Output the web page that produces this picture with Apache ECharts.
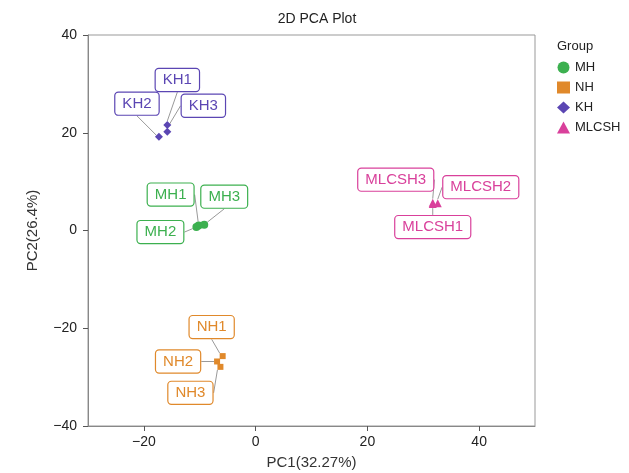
<!DOCTYPE html>
<html>
<head>
<meta charset="utf-8">
<script src="https://cdn.jsdelivr.net/npm/echarts@6/dist/echarts.min.js"></script>
<style>
html,body{margin:0;padding:0;background:#fff;}
#chart{width:629px;height:473px;}
</style>
</head>
<body>
<div id="chart"></div>
<script>
// ---- data ----
const groups = ['MH', 'NH', 'KH', 'MLCSH'];
const MH_points = [['MH1', -10.2, 1.0], ['MH2', -10.6, 0.7], ['MH3', -9.2, 1.2]];
const NH_points = [['NH1', -5.9, -25.7], ['NH2', -6.9, -26.8], ['NH3', -6.3, -27.9]];
const KH_points = [['KH1', -15.8, 21.6], ['KH2', -17.3, 19.2], ['KH3', -15.8, 20.2]];
const MLCSH_points = [['MLCSH1', 31.7, 5.4], ['MLCSH2', 32.6, 5.6], ['MLCSH3', 31.7, 5.7]];
const xTicks = [-20, 0, 20, 40];
const yTicks = [-40, -20, 0, 20, 40];

// ---- styling / layout (not data) ----
const colors = {MH: '#3cb04f', NH: '#e0892b', KH: '#5b46b3', MLCSH: '#d9409b'};
const symbols = {MH: 'circle', NH: 'rect', KH: 'diamond', MLCSH: 'triangle'};
const symbolSizes = {MH: 8, NH: 6, KH: 8, MLCSH: 8};
const labelShift = {
  MH1: [-28, -31], MH2: [-36, 5], MH3: [20, -28],
  NH1: [-11, -29], NH2: [-39, 0], NH3: [-30, 26],
  KH1: [10, -45], KH2: [-22, -33], KH3: [36, -26],
  MLCSH1: [0, 23], MLCSH2: [43, -16], MLCSH3: [-37, -23]
};
const pointSets = {MH: MH_points, NH: NH_points, KH: KH_points, MLCSH: MLCSH_points};

const chart = echarts.init(document.getElementById('chart'));
const font = 'Liberation Sans, Arial, sans-serif';
const minus = function (v) { return String(v).replace('-', '\u2212'); };

const series = groups.map(function (g) {
  return {
    name: g,
    type: 'scatter',
    symbol: symbols[g],
    symbolSize: symbolSizes[g],
    itemStyle: {color: colors[g], opacity: 1},
    data: pointSets[g].map(function (p) { return {name: p[0], value: [p[1], p[2]]}; }),
    label: {
      show: true,
      position: 'inside',
      formatter: '{b}',
      color: colors[g],
      fontFamily: font,
      fontSize: 15,
      lineHeight: 16,
      backgroundColor: '#fff',
      borderColor: colors[g],
      borderWidth: 1.2,
      borderRadius: 3,
      padding: [3, 7, 3, 7]
    },
    labelLine: {show: true, lineStyle: {color: '#999', width: 1}},
    labelLayout: function (params) {
      const s = labelShift[params.text] || [0, 0];
      return {dx: s[0], dy: s[1]};
    },
    emphasis: {disabled: true}
  };
});

chart.setOption({
  animation: false,
  title: [
    {text: '2D PCA Plot', left: 312, top: 7, textAlign: 'center',
     textStyle: {fontFamily: font, fontSize: 14, fontWeight: 'normal', color: '#222'}},
    {text: 'Group', left: 552, top: 35,
     textStyle: {fontFamily: font, fontSize: 13, fontWeight: 'normal', color: '#222'}}
  ],
  legend: {
    orient: 'vertical', left: 552, top: 56, itemGap: 7,
    itemWidth: 13, itemHeight: 12,
    textStyle: {fontFamily: font, fontSize: 13, color: '#222'},
    data: groups.map(function (g) { return {name: g, icon: symbols[g]}; })
  },
  grid: {left: 88, right: 94, top: 35, bottom: 47, show: true, borderColor: '#999', borderWidth: 1,
         outerBoundsMode: 'none', containLabel: false},
  xAxis: {
    type: 'value', min: -30, max: 50,
    name: 'PC1(32.27%)', nameLocation: 'middle', nameGap: 29,
    nameTextStyle: {fontFamily: font, fontSize: 15, color: '#333'},
    axisLine: {show: true, onZero: false, lineStyle: {color: '#888'}},
    axisTick: {show: true, customValues: xTicks, length: 5, lineStyle: {color: '#555'}},
    axisLabel: {customValues: xTicks, fontFamily: font, fontSize: 14, color: '#222', margin: 9, formatter: minus},
    splitLine: {show: false}
  },
  yAxis: {
    type: 'value', min: -40, max: 40, interval: 20,
    name: 'PC2(26.4%)', nameLocation: 'middle', nameGap: 48,
    nameTextStyle: {fontFamily: font, fontSize: 15, color: '#333'},
    axisLine: {show: true, onZero: false, lineStyle: {color: '#888'}},
    axisTick: {show: true, length: 5, lineStyle: {color: '#555'}},
    axisLabel: {fontFamily: font, fontSize: 14, color: '#222', margin: 11, formatter: minus},
    splitLine: {show: false}
  },
  series: series
});
</script>
</body>
</html>
